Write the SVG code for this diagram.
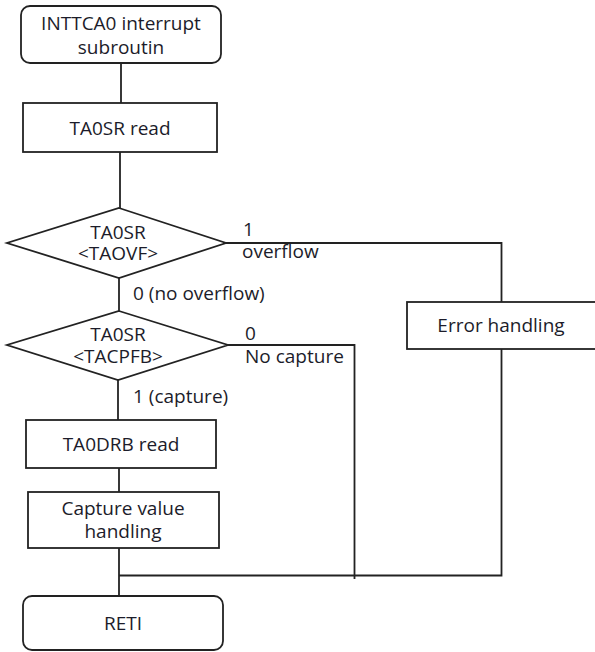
<svg xmlns="http://www.w3.org/2000/svg" width="595" height="652" viewBox="0 0 595 652">
<style>
.box{fill:#fff;stroke:#222;stroke-width:1.8}
.ln{fill:none;stroke:#222;stroke-width:1.8}
text{font-family:"Open Sans","Liberation Sans",sans-serif;font-size:19px;fill:#1c1c2a}
.c{text-anchor:middle}
</style>
<rect width="595" height="652" fill="#fff"/>
<g id="connectors">
<line class="ln" x1="121" y1="63" x2="121" y2="103"/>
<line class="ln" x1="120" y1="152" x2="120" y2="208"/>
<polyline class="ln" points="226,243 501.5,243 501.5,302"/>
<line class="ln" x1="119" y1="278" x2="119" y2="311"/>
<polyline class="ln" points="228,345 354.5,345 354.5,579"/>
<line class="ln" x1="118" y1="380" x2="118" y2="420"/>
<line class="ln" x1="119" y1="468" x2="119" y2="492"/>
<line class="ln" x1="119" y1="548" x2="119" y2="596"/>
<polyline class="ln" points="119,575.5 501.5,575.5 501.5,349"/>
</g>
<g id="start">
<rect class="box" x="21" y="6" width="200" height="57" rx="9"/>
<text class="c" x="121" y="30">INTTCA0 interrupt</text>
<text class="c" x="121" y="54">subroutin</text>
</g>
<g id="ta0sr-read">
<rect class="box" x="23" y="103" width="194" height="49"/>
<text class="c" x="120" y="135">TA0SR read</text>
</g>
<g id="dec-ovf">
<polygon class="box" points="119,208 226,243 119,278 7,243"/>
<text class="c" x="118" y="239">TA0SR</text>
<text class="c" x="118" y="260">&lt;TAOVF&gt;</text>
</g>
<text x="243" y="236">1</text>
<text x="242" y="258">overflow</text>
<text x="133" y="300">0 (no overflow)</text>
<g id="error">
<rect class="box" x="407" y="302" width="200" height="47"/>
<text class="c" x="501" y="332">Error handling</text>
</g>
<g id="dec-cap">
<polygon class="box" points="119,311 228,345 118,380 7,345"/>
<text class="c" x="118" y="341">TA0SR</text>
<text class="c" x="118" y="363">&lt;TACPFB&gt;</text>
</g>
<text x="245" y="340">0</text>
<text x="245" y="363">No capture</text>
<text x="133" y="403">1 (capture)</text>
<g id="ta0drb-read">
<rect class="box" x="26" y="420" width="190" height="48"/>
<text class="c" x="121" y="451">TA0DRB read</text>
</g>
<g id="capture-handling">
<rect class="box" x="28" y="492" width="191" height="56"/>
<text class="c" x="123" y="515">Capture value</text>
<text class="c" x="123" y="538">handling</text>
</g>
<g id="reti">
<rect class="box" x="23" y="596" width="200" height="54" rx="9"/>
<text class="c" x="123" y="630">RETI</text>
</g>
</svg>
